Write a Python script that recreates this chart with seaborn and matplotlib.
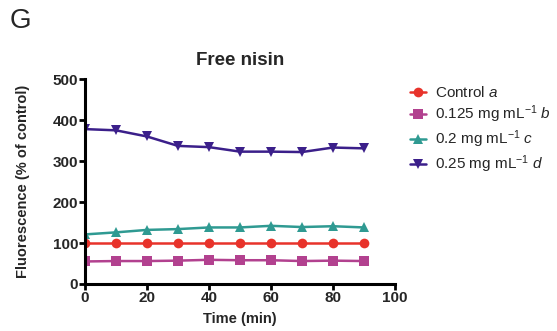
import numpy as np
import pandas as pd
import matplotlib
matplotlib.use("Agg")
import matplotlib.pyplot as plt
import seaborn as sns

sns.set_theme(style="ticks")
plt.rcParams['font.family'] = ['Liberation Sans', 'DejaVu Sans']
plt.rcParams['mathtext.fontset'] = 'custom'
plt.rcParams['mathtext.rm'] = 'Liberation Sans'
plt.rcParams['mathtext.it'] = 'Liberation Sans:italic'
plt.rcParams['mathtext.bf'] = 'Liberation Sans:bold'

time_min = [0, 10, 20, 30, 40, 50, 60, 70, 80, 90]
control = [100, 100, 100, 100, 100, 100, 100, 100, 100, 100]
conc_0125 = [55, 56, 56, 57, 59, 58, 58, 56, 57, 56]
conc_02 = [121, 126, 132, 134, 138, 138, 142, 139, 141, 138]
conc_025 = [378, 375, 360, 337, 334, 323, 323, 322, 333, 331]

labels = ["Control $\\it{a}$",
          "0.125 mg mL$^{-1}$ $\\it{b}$",
          "0.2 mg mL$^{-1}$ $\\it{c}$",
          "0.25 mg mL$^{-1}$ $\\it{d}$"]
colors = ["#e8332b", "#b2418f", "#2f9a92", "#3b1f8a"]
markers = ["o", "s", "^", "v"]
series = [control, conc_0125, conc_02, conc_025]

frames = []
for lab, vals in zip(labels, series):
    frames.append(pd.DataFrame({"Time": time_min, "Fluorescence": vals, "Group": lab}))
df = pd.concat(frames, ignore_index=True)

fig = plt.figure(figsize=(5.57, 3.31), dpi=100)
ax = fig.add_axes([0.1526, 0.142, 0.5565, 0.619])

sns.lineplot(data=df, x="Time", y="Fluorescence", hue="Group", style="Group",
             hue_order=labels, style_order=labels,
             palette=dict(zip(labels, colors)),
             markers=dict(zip(labels, markers)), dashes=False,
             markersize=7, linewidth=1.8, markeredgewidth=0, ax=ax)

ax.set_xlim(0, 100)
ax.set_ylim(0, 500)
ax.set_xticks([0, 20, 40, 60, 80, 100])
ax.set_yticks([0, 100, 200, 300, 400, 500])
for s in ["top", "right"]:
    ax.spines[s].set_visible(False)
for s in ["left", "bottom"]:
    ax.spines[s].set_linewidth(2.2)
    ax.spines[s].set_color("black")
ax.tick_params(axis="both", width=2, length=4, color="black", labelsize=11, pad=1)
for t in ax.get_xticklabels() + ax.get_yticklabels():
    t.set_fontweight("bold")
ax.set_xlabel("Time (min)", fontsize=10.5, fontweight="bold", labelpad=5)
ax.set_ylabel("Fluorescence (% of control)", fontsize=10.5, fontweight="bold", labelpad=16)
ax.set_title("Free nisin", fontsize=13.5, fontweight="bold", pad=10)

handles, _ = ax.get_legend_handles_labels()
leg = ax.legend(handles, labels, loc="upper left", bbox_to_anchor=(1.03, 1.0),
                frameon=False, fontsize=11, handlelength=1.0, handletextpad=0.6,
                labelspacing=0.22, borderaxespad=0)

fig.text(0.018, 1 - 28 / 331, "G", fontsize=20, va="baseline")

fig.savefig("out.png", dpi=100)
